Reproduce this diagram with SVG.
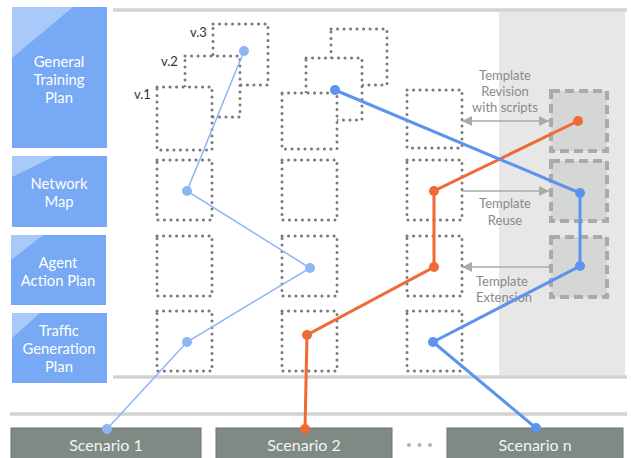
<svg xmlns="http://www.w3.org/2000/svg" width="631" height="458" viewBox="0 0 631 458">
<defs>
<style>
.lbl{fill:#78a9f5}
.tri{fill:#a9c9f9}
.lt{font-family:Lato,"Open Sans",sans-serif;font-size:14.8px;fill:#ffffff;text-anchor:middle}
.dot{fill:#ffffff;stroke:#7a7a7a;stroke-width:3;stroke-dasharray:0.1 6.4;stroke-linecap:round}
.tpl{fill:#d5d7d4;stroke:#a9aba8;stroke-width:4;stroke-dasharray:9 5}
.sc{fill:#7e8a83;stroke:#6d7771;stroke-width:1}
.st{font-family:Lato,"Open Sans",sans-serif;font-size:16px;fill:#f4f4f4;text-anchor:middle}
.tt{font-family:Lato,"Open Sans",sans-serif;font-size:13px;fill:#8a8a8a;text-anchor:middle}
.vt{font-family:Lato,"Open Sans",sans-serif;font-size:13px;fill:#333333}
.arr{stroke:#a9aba9;stroke-width:1.5;fill:none}
.sep{stroke:#d2d2d2;stroke-width:3.5}
</style>
<marker id="ah" viewBox="0 0 10 10" refX="10" refY="5" markerWidth="10" markerHeight="10" markerUnits="userSpaceOnUse" orient="auto-start-reverse">
<path d="M0,0 L10,5 L0,10 z" fill="#a9aba9"/>
</marker>
</defs>
<rect width="631" height="458" fill="#ffffff"/>
<rect x="499" y="12" width="126" height="363" fill="#e6e7e6"/>
<line class="sep" x1="113" y1="10" x2="627" y2="10"/>
<line class="sep" x1="113" y1="377" x2="627" y2="377"/>
<line class="sep" x1="10" y1="414" x2="627" y2="414"/>

<g id="label-general">
<rect class="lbl" x="12" y="7" width="95" height="141"/>
<polygon class="tri" points="12,7 73,7 12,58"/>
<text class="lt" x="59" y="67">General</text>
<text class="lt" x="59" y="85">Training</text>
<text class="lt" x="59" y="103">Plan</text>
</g>
<g id="label-network">
<rect class="lbl" x="12" y="156" width="95" height="71"/>
<polygon class="tri" points="12,156 55,156 12,177"/>
<text class="lt" x="59" y="189">Network</text>
<text class="lt" x="59" y="207">Map</text>
</g>
<g id="label-agent">
<rect class="lbl" x="11" y="235" width="95" height="70"/>
<polygon class="tri" points="11,235 43,235 11,260"/>
<text class="lt" x="58" y="268">Agent</text>
<text class="lt" x="58" y="286">Action Plan</text>
</g>
<g id="label-traffic">
<rect class="lbl" x="12" y="313" width="95" height="70"/>
<polygon class="tri" points="12,313 40,313 12,338"/>
<text class="lt" x="59" y="336">Traffic</text>
<text class="lt" x="59" y="354">Generation</text>
<text class="lt" x="59" y="372">Plan</text>
</g>

<g id="col1">
<rect class="dot" x="213" y="24" width="55" height="61"/>
<rect class="dot" x="185" y="56" width="55" height="61"/>
<rect class="dot" x="157" y="87" width="55" height="63"/>
<rect class="dot" x="157" y="160" width="55" height="60"/>
<rect class="dot" x="157" y="236" width="55" height="60"/>
<rect class="dot" x="157" y="311" width="55" height="60"/>
<text class="vt" x="190" y="37">v.3</text>
<text class="vt" x="161" y="66">v.2</text>
<text class="vt" x="134" y="99">v.1</text>
</g>
<g id="col2">
<rect class="dot" x="331" y="29" width="56" height="56"/>
<rect class="dot" x="306" y="58" width="56" height="62"/>
<rect class="dot" x="282" y="93" width="55" height="56"/>
<rect class="dot" x="282" y="160" width="55" height="60"/>
<rect class="dot" x="282" y="236" width="55" height="60"/>
<rect class="dot" x="282" y="311" width="55" height="60"/>
</g>
<g id="col3">
<rect class="dot" x="407" y="90" width="55" height="58"/>
<rect class="dot" x="407" y="160" width="55" height="60"/>
<rect class="dot" x="407" y="236" width="55" height="60"/>
<rect class="dot" x="407" y="311" width="55" height="60"/>
</g>
<g id="templates">
<rect class="tpl" x="551" y="91" width="56" height="60"/>
<rect class="tpl" x="551" y="161" width="56" height="60"/>
<rect class="tpl" x="551" y="237" width="56" height="60"/>
</g>

<g id="template-labels">
<line class="arr" x1="462" y1="121" x2="549" y2="121" marker-start="url(#ah)" marker-end="url(#ah)"/>
<text class="tt" x="505" y="80">Template</text>
<text class="tt" x="505" y="96">Revision</text>
<text class="tt" x="505" y="112">with scripts</text>
<line class="arr" x1="462" y1="191" x2="549" y2="191" marker-end="url(#ah)"/>
<text class="tt" x="505" y="208">Template</text>
<text class="tt" x="505" y="225">Reuse</text>
<line class="arr" x1="549" y1="267" x2="462" y2="267" marker-end="url(#ah)"/>
<text class="tt" x="476" y="286" style="text-anchor:start">Template</text>
<text class="tt" x="476" y="302" style="text-anchor:start">Extension</text>
</g>

<g id="scenario-1">
<rect class="sc" x="11" y="428" width="190" height="32"/>
<text class="st" x="106" y="451">Scenario 1</text>
</g>
<g id="scenario-2">
<rect class="sc" x="216" y="428" width="176" height="32"/>
<text class="st" x="304" y="451">Scenario 2</text>
</g>
<g id="ellipsis">
<circle cx="409" cy="445" r="2" fill="#b0b0b0"/>
<circle cx="419.5" cy="445" r="2" fill="#b0b0b0"/>
<circle cx="430" cy="445" r="2" fill="#b0b0b0"/>
</g>
<g id="scenario-n">
<rect class="sc" x="447" y="428" width="176" height="32"/>
<text class="st" x="535" y="451">Scenario n</text>
</g>

<g id="connectors">
<polyline points="107,429 187,342 310,268 187,191 244,51" fill="none" stroke="#8db6f3" stroke-width="1.5"/>
<g fill="#8db6f3">
<circle cx="107" cy="429" r="5"/><circle cx="187" cy="342" r="5"/><circle cx="310" cy="268" r="5"/><circle cx="187" cy="191" r="5"/><circle cx="244" cy="51" r="5"/>
</g>
<polyline points="305,429 307,335 434,267 434,191 578,121" fill="none" stroke="#f06a35" stroke-width="3"/>
<g fill="#f06a35">
<circle cx="305" cy="429" r="5"/><circle cx="307" cy="335" r="5"/><circle cx="434" cy="267" r="5"/><circle cx="434" cy="191" r="5"/><circle cx="578" cy="121" r="5"/>
</g>
<polyline points="536,428 433,342 580,266 580,193 335,90" fill="none" stroke="#5b93ee" stroke-width="3"/>
<g fill="#5b93ee">
<circle cx="536" cy="428" r="5"/><circle cx="433" cy="342" r="5"/><circle cx="580" cy="266" r="5"/><circle cx="580" cy="193" r="5"/><circle cx="335" cy="90" r="5"/>
</g>
</g>
</svg>
